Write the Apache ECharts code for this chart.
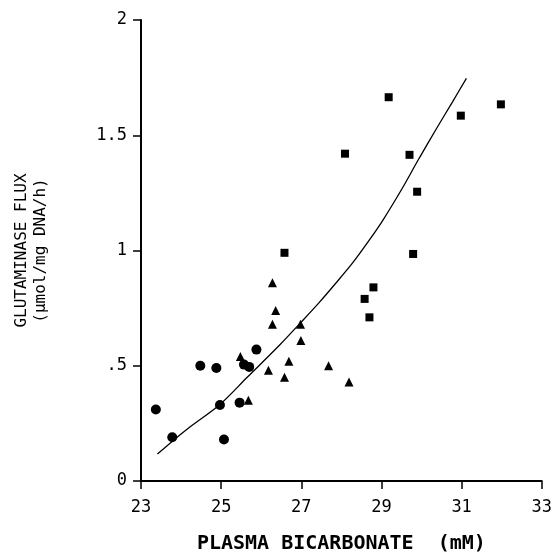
<!DOCTYPE html>
<html>
<head>
<meta charset="utf-8">
<script src="https://cdn.jsdelivr.net/npm/echarts@6/dist/echarts.min.js"></script>
<style>
  html, body { margin: 0; padding: 0; background: #fff; }
  #chart { width: 555px; height: 559px; }
</style>
</head>
<body>
<div id="chart"></div>
<script>
// circles
const circleX = [23.37, 23.78, 24.48, 24.88, 24.97, 25.07, 25.46, 25.57, 25.70, 25.88];
const circleY = [0.31, 0.19, 0.50, 0.49, 0.33, 0.18, 0.34, 0.505, 0.495, 0.57];
// triangles
const triX = [25.48, 25.68, 26.18, 26.28, 26.36, 26.28, 26.58, 26.69, 26.98, 26.99, 27.68, 28.19];
const triY = [0.54, 0.35, 0.48, 0.86, 0.74, 0.68, 0.45, 0.52, 0.68, 0.61, 0.50, 0.43];
// squares
const sqX = [26.58, 28.09, 28.58, 28.80, 28.70, 29.18, 29.70, 29.89, 29.79, 30.98, 31.98];
const sqY = [0.99, 1.42, 0.79, 0.84, 0.71, 1.665, 1.415, 1.255, 0.985, 1.585, 1.634];
// fitted curve
const fitX = [23.41, 23.8, 24.22, 24.97, 25.65, 26.46, 27.0, 27.45, 27.87, 28.28, 28.7, 29.03, 29.52, 29.94, 30.36, 30.77, 31.12];
const fitY = [0.117, 0.175, 0.234, 0.332, 0.45, 0.59, 0.69, 0.775, 0.86, 0.946, 1.046, 1.13, 1.27, 1.40, 1.525, 1.644, 1.747];

const xTicks = [23, 25, 27, 29, 31, 33];
const yTickText = { 0: "0", 0.5: ".5", 1: "1", 1.5: "1.5", 2: "2" };

const pairs = (xs, ys) => xs.map((x, i) => [x, ys[i]]);

const chart = echarts.init(document.getElementById("chart"));
const mono = "DejaVu Sans Mono";

chart.setOption({
  backgroundColor: "#fff",
  animation: false,
  grid: { left: 141, right: 12, top: 20, bottom: 71 },
  xAxis: {
    type: "value",
    min: 23,
    max: 33,
    name: "PLASMA BICARBONATE  (mM)",
    nameLocation: "middle",
    nameGap: 53,
    nameTextStyle: { color: "#000", fontFamily: mono, fontWeight: "bold", fontSize: 20 },
    axisLine: { show: true, onZero: false, lineStyle: { color: "#000", width: 2 } },
    axisTick: { show: true, length: 8, customValues: xTicks, lineStyle: { color: "#000", width: 1.5 } },
    axisLabel: { customValues: xTicks, margin: 18, color: "#000", fontFamily: mono, fontSize: 17 },
    splitLine: { show: false },
  },
  yAxis: {
    type: "value",
    min: 0,
    max: 2,
    interval: 0.5,
    name: "GLUTAMINASE FLUX\n(μmol/mg DNA/h)",
    nameLocation: "middle",
    nameRotate: 90,
    nameGap: 91,
    nameTextStyle: { color: "#000", fontFamily: mono, fontSize: 16, lineHeight: 19 },
    axisLine: { show: true, onZero: false, lineStyle: { color: "#000", width: 2 } },
    axisTick: { show: true, length: 8, lineStyle: { color: "#000", width: 1.5 } },
    axisLabel: {
      margin: 14,
      color: "#000",
      fontFamily: mono,
      fontSize: 17,
      formatter: (v) => yTickText[v] ?? String(v),
    },
    splitLine: { show: false },
  },
  series: [
    {
      name: "fit",
      type: "line",
      smooth: 0.3,
      showSymbol: false,
      lineStyle: { color: "#000", width: 1.3 },
      data: pairs(fitX, fitY),
      z: 1,
    },
    {
      name: "circles",
      type: "scatter",
      symbol: "circle",
      symbolSize: 10,
      itemStyle: { color: "#000", opacity: 1 },
      data: pairs(circleX, circleY),
      z: 2,
    },
    {
      name: "triangles",
      type: "scatter",
      symbol: "triangle",
      symbolSize: 9,
      itemStyle: { color: "#000", opacity: 1 },
      data: pairs(triX, triY),
      z: 2,
    },
    {
      name: "squares",
      type: "scatter",
      symbol: "rect",
      symbolSize: 8,
      itemStyle: { color: "#000", opacity: 1 },
      data: pairs(sqX, sqY),
      z: 2,
    },
  ],
});
</script>
</body>
</html>
